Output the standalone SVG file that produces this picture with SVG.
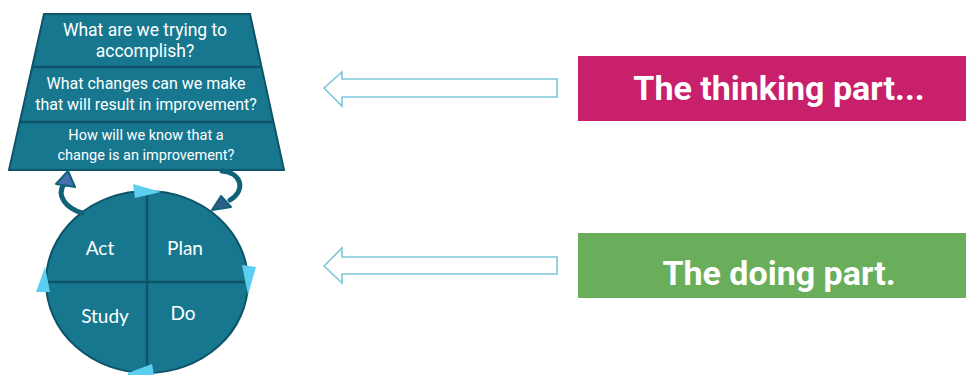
<svg xmlns="http://www.w3.org/2000/svg" width="966" height="375" viewBox="0 0 966 375">
<style>
.teal{fill:#17778f;stroke:#0e5468;stroke-width:2}
.div{stroke:#0e5468;stroke-width:2.5;fill:none}
.q{font-family:Roboto,"Liberation Sans",sans-serif;fill:#fff;text-anchor:middle}
.c{font-family:Lato,"Open Sans",sans-serif;fill:#fff;font-size:19px;text-anchor:middle}
.tri{fill:#5ccff0}
.big{font-family:Roboto,"Liberation Sans",sans-serif;font-weight:bold;font-size:34px;fill:#fff;text-anchor:middle}
.hollow{fill:#fff;stroke:#7cc6dc;stroke-width:1.6}
.curve{fill:none;stroke:#0f6278;stroke-width:5;stroke-linecap:round}
</style>
<rect width="966" height="375" fill="#fff"/>
<g id="trapezoid">
<polygon class="teal" points="44,14 250,14 284,170 9,170"/>
<line class="div" x1="32" y1="67" x2="262" y2="67"/>
<line class="div" x1="20" y1="122" x2="273" y2="122"/>
<text class="q" x="145" y="36" font-size="17.5">What are we trying to</text>
<text class="q" x="145" y="57" font-size="17.5">accomplish?</text>
<text class="q" x="146" y="89" font-size="16">What changes can we make</text>
<text class="q" x="146" y="110" font-size="16">that will result in improvement?</text>
<text class="q" x="146" y="140" font-size="14.5">How will we know that a</text>
<text class="q" x="146" y="160" font-size="14.5">change is an improvement?</text>
</g>
<g id="cycle">
<ellipse class="teal" cx="147" cy="282" rx="101" ry="91"/>
<line class="div" x1="147" y1="191" x2="147" y2="373"/>
<line class="div" x1="46" y1="282" x2="248" y2="282"/>
<text class="c" x="100" y="255">Act</text>
<text class="c" x="185" y="255">Plan</text>
<text class="c" x="105" y="323">Study</text>
<text class="c" x="183" y="320">Do</text>
<polygon class="tri" points="133,184 161,192 135,198"/>
<polygon class="tri" points="242,265 256,267 248,295"/>
<polygon class="tri" points="128,373 152,364 154,375 128,375"/>
<polygon class="tri" points="45,267 36,292 50,292"/>
</g>
<g id="connectors">
<path class="curve" d="M82,213 C66,208 56,196 64,184"/>
<polygon points="56,184 68,171 75,187" fill="#4a6fb0" stroke="#0f6278" stroke-width="2" stroke-linejoin="round"/>
<path class="curve" d="M222,171 C242,173 246,190 230,200"/>
<polygon points="221,196 212,210 231,207" fill="#2e5f8a" stroke="#0f6278" stroke-width="2" stroke-linejoin="round"/>
<polygon class="hollow" points="324,88 342,72 342,79 557,79 557,97 342,97 342,106"/>
<polygon class="hollow" points="324,266 342,248 342,257 557,257 557,274 342,274 342,283"/>
</g>
<g id="thinking">
<rect x="578" y="56" width="388" height="65" fill="#c8206b"/>
<text class="big" x="779" y="100">The thinking part...</text>
</g>
<g id="doing">
<rect x="578" y="233" width="388" height="65" fill="#6aae5c"/>
<text class="big" x="779" y="285">The doing part.</text>
</g>
</svg>
